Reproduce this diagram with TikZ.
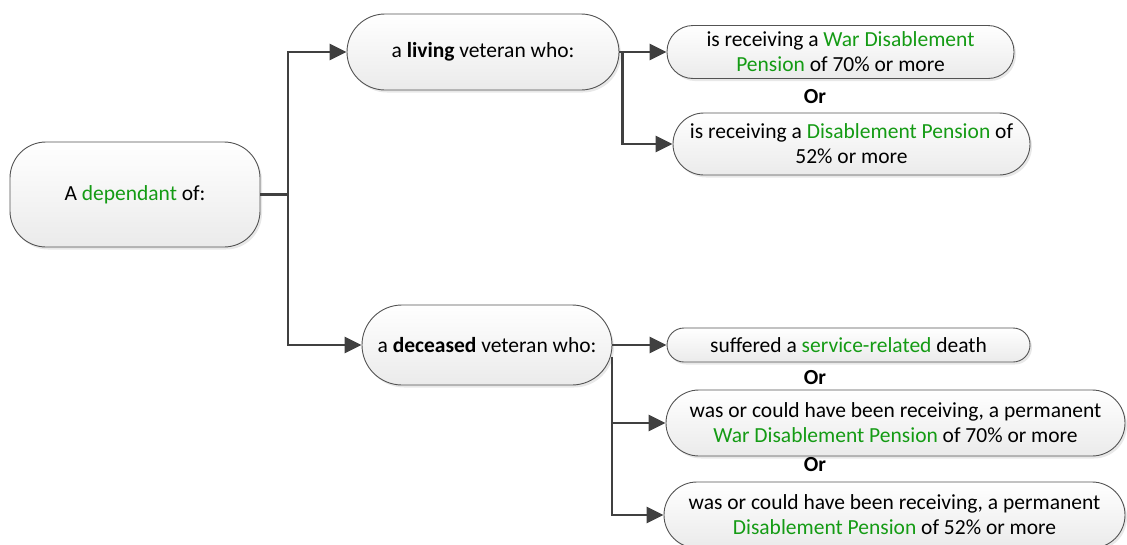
\documentclass[tikz,border=0pt]{standalone}
\usepackage{fontspec}
\setmainfont{Carlito}
\usetikzlibrary{arrows.meta,shadows,calc}

\definecolor{termgreen}{RGB}{20,155,20}
\definecolor{edgegray}{RGB}{64,64,64}

\tikzstyle{box}=[draw=edgegray!90,line width=0.9pt,top color=white,bottom color=black!8,
  drop shadow={shadow xshift=2pt,shadow yshift=-2.5pt,opacity=0.18},
  align=center,inner sep=0pt,font=\fontsize{21.5}{25}\selectfont]
\tikzstyle{pill}=[box,rounded corners=#1]
\tikzstyle{link}=[draw=edgegray,line width=2.8pt]
\tikzstyle{arr}=[link,-{Triangle[length=17pt,width=16pt]}]
\tikzstyle{ortext}=[font=\fontsize{21.5}{25}\selectfont\bfseries]

\newcommand{\gr}[1]{\textcolor{termgreen}{#1}}

\begin{document}
\begin{tikzpicture}[x=1pt,y=1pt]
\useasboundingbox (0,0) rectangle (1127,-544);

\node[pill=36pt,minimum width=250pt,minimum height=105pt] (root) at (135,-194.5) {A \gr{dependant} of:};

\node[pill=38pt,minimum width=272pt,minimum height=76pt] (living) at (483,-52) {a \textbf{living} veteran who:};
\node[pill=40pt,minimum width=250pt,minimum height=80pt] (deceased) at (487,-345) {a \textbf{deceased} veteran who:};

\node[pill=26pt,minimum width=347pt,minimum height=53pt] (lone) at (840.5,-52) {is receiving a \gr{War Disablement}\\\gr{Pension} of 70\% or more};
\node[ortext] (orone) at (815,-97) {Or};
\node[pill=31pt,minimum width=357pt,minimum height=62pt] (ltwo) at (851.5,-144) {is receiving a \gr{Disablement Pension} of\\52\% or more};

\node[pill=17pt,minimum width=363pt,minimum height=34pt] (done) at (848.5,-345) {suffered a \gr{service-related} death};
\node[ortext] (ortwo) at (815,-378) {Or};
\node[pill=33pt,minimum width=459pt,minimum height=66pt] (dtwo) at (895.5,-423) {was or could have been receiving, a permanent\\\gr{War Disablement Pension} of 70\% or more};
\node[ortext] (orthree) at (815,-465) {Or};
\node[pill=33pt,minimum width=461pt,minimum height=66pt] (dthree) at (894.5,-515) {was or could have been receiving, a permanent\\\gr{Disablement Pension} of 52\% or more};

% trunk from the root box
\coordinate (trunk) at (288,-194.5);
\path[link] (root) -- (trunk);
\draw[arr] (trunk) |- (living);
\draw[arr] (trunk) |- (deceased);

% living veteran
\coordinate (lvturn) at ($(living.east)+(3,0)$);
\draw[arr] (living) -- (lone);
\draw[arr] (lvturn) |- (ltwo);

% deceased veteran
\coordinate (dcturn) at (612,-357);
\draw[arr] (deceased) -- (done);
\draw[arr] (dcturn) |- (dtwo);
\draw[arr] (dcturn) |- (dthree);

\end{tikzpicture}
\end{document}
